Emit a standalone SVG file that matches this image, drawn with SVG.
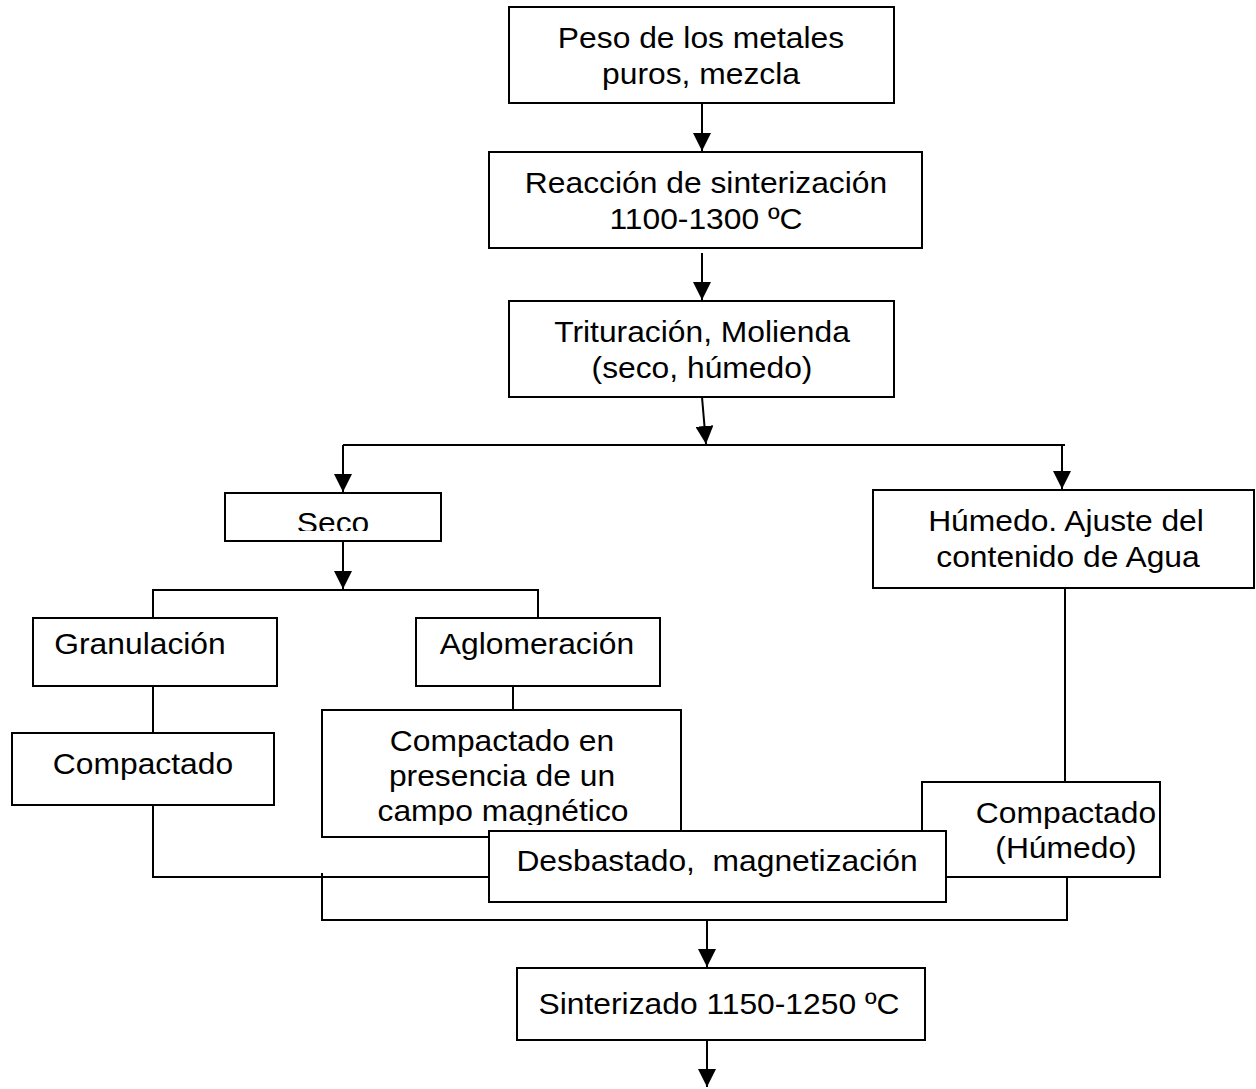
<svg xmlns="http://www.w3.org/2000/svg" width="1256" height="1089" viewBox="0 0 1256 1089">
<style>
.box{fill:#fff;stroke:#000;stroke-width:2}
.ln{fill:none;stroke:#000;stroke-width:2}
.t{font-family:"Liberation Sans",Arial,sans-serif;font-size:30px;fill:#000;text-anchor:middle;white-space:pre}
</style>
<defs>
<marker id="ah" markerUnits="userSpaceOnUse" markerWidth="18" markerHeight="18" viewBox="0 0 16 16" refX="16" refY="8" orient="auto">
<path d="M0,0 L16,8 L0,16 Z" fill="#000"/>
</marker>
<clipPath id="cSeco"><rect x="200" y="490" width="260" height="41"/></clipPath>
<clipPath id="cPres"><rect x="300" y="700" width="400" height="125"/></clipPath>
</defs>
<rect width="1256" height="1089" fill="#fff"/>
<g id="connectors">
<path class="ln" d="M702,103 L702,151" marker-end="url(#ah)"/>
<path class="ln" d="M702,253 L702,300" marker-end="url(#ah)"/>
<path class="ln" d="M702,397 L706,444" marker-end="url(#ah)"/>
<path class="ln" d="M343,445 L1065,445"/>
<path class="ln" d="M343,445 L343,492" marker-end="url(#ah)"/>
<path class="ln" d="M1062,445 L1062,489" marker-end="url(#ah)"/>
<path class="ln" d="M343,541 L343,589" marker-end="url(#ah)"/>
<path class="ln" d="M153,618 L153,590 L538,590 L538,618"/>
<path class="ln" d="M153,686 L153,733"/>
<path class="ln" d="M513,686 L513,710"/>
<path class="ln" d="M1065,588 L1065,782"/>
<path class="ln" d="M153,805 L153,877 L489,877"/>
<path class="ln" d="M322,873 L322,920 L1067,920 L1067,872"/>
<path class="ln" d="M707,920 L707,967" marker-end="url(#ah)"/>
<path class="ln" d="M707,1040 L707,1087" marker-end="url(#ah)"/>
</g>
<g id="n1"><rect class="box" x="509" y="7" width="385" height="96"/>
<text class="t" transform="translate(701 48) scale(1.06 1)">Peso de los metales</text>
<text class="t" transform="translate(701 84) scale(1.06 1)">puros, mezcla</text></g>
<g id="n2"><rect class="box" x="489" y="152" width="433" height="96"/>
<text class="t" transform="translate(706 193) scale(1.06 1)">Reacción de sinterización</text>
<text class="t" transform="translate(706 229) scale(1.06 1)">1100-1300 ºC</text></g>
<g id="n3"><rect class="box" x="509" y="301" width="385" height="96"/>
<text class="t" transform="translate(702 342) scale(1.06 1)">Trituración, Molienda</text>
<text class="t" transform="translate(702 378) scale(1.06 1)">(seco, húmedo)</text></g>
<g id="n4"><rect class="box" x="225" y="493" width="216" height="48"/>
<g clip-path="url(#cSeco)"><text class="t" transform="translate(333 533) scale(1.06 1)">Seco</text></g></g>
<g id="n5"><rect class="box" x="873" y="490" width="381" height="98"/>
<text class="t" transform="translate(1066 531) scale(1.06 1)">Húmedo. Ajuste del</text>
<text class="t" transform="translate(1068 567) scale(1.06 1)">contenido de Agua</text></g>
<g id="n6"><rect class="box" x="33" y="618" width="244" height="68"/>
<text class="t" transform="translate(140 654) scale(1.06 1)">Granulación</text></g>
<g id="n7"><rect class="box" x="416" y="618" width="244" height="68"/>
<text class="t" transform="translate(537 654) scale(1.06 1)">Aglomeración</text></g>
<g id="n8"><rect class="box" x="12" y="733" width="262" height="72"/>
<text class="t" transform="translate(143 774) scale(1.06 1)">Compactado</text></g>
<g id="n9"><rect class="box" x="322" y="710" width="359" height="127"/>
<g clip-path="url(#cPres)">
<text class="t" transform="translate(502 751) scale(1.06 1)">Compactado en</text>
<text class="t" transform="translate(502 786) scale(1.06 1)">presencia de un</text>
<text class="t" transform="translate(503 821) scale(1.06 1)">campo magnético</text></g></g>
<g id="n10"><rect class="box" x="922" y="782" width="238" height="95"/>
<text class="t" transform="translate(1066 823) scale(1.06 1)">Compactado</text>
<text class="t" transform="translate(1066 858) scale(1.06 1)">(Húmedo)</text></g>
<g id="n11"><rect class="box" x="489" y="831" width="457" height="71"/>
<text class="t" transform="translate(717 871) scale(1.06 1)">Desbastado,  magnetización</text></g>
<g id="n12"><rect class="box" x="517" y="968" width="408" height="72"/>
<text class="t" transform="translate(719 1014) scale(1.06 1)">Sinterizado 1150-1250 ºC</text></g>
</svg>
